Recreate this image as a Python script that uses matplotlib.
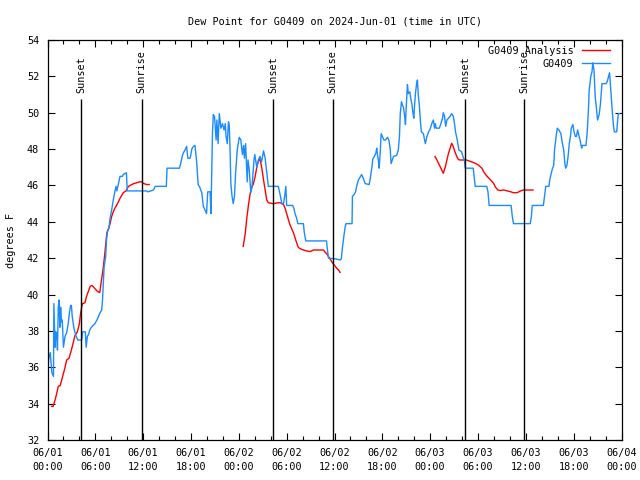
import numpy as np
import matplotlib
matplotlib.use("Agg")
import matplotlib.pyplot as plt

# ---------------- data (hours since 2024-06-01 00:00 UTC) ----------------
obs_hours = [0.0, 0.2, 0.35, 0.45, 0.55, 0.75, 0.8, 0.95, 1.05, 1.15, 1.25, 1.35, 1.45, 1.55, 1.65, 1.75, 1.85,
             2.0, 2.2, 2.4, 2.6, 2.75, 2.9, 3.0, 3.1, 3.3, 3.45, 3.6, 3.8, 4.3, 4.4, 4.75, 4.85, 5.0, 5.15, 5.3,
             5.5, 5.95, 6.2, 6.4, 6.6, 6.8, 6.9, 7.0, 7.1, 7.3, 7.4, 7.55, 7.7, 7.85, 8.05, 8.25, 8.45, 8.6, 8.7,
             8.9, 9.1, 9.4, 9.5, 9.9, 10.0, 12.45, 12.6, 13.3, 13.5, 14.9, 15.0, 16.55, 16.7, 16.9, 17.05, 17.25,
             17.45, 17.6, 17.9, 18.1, 18.3, 18.5, 18.7, 18.9, 19.1, 19.35, 19.55, 19.75, 19.95, 20.1, 20.4, 20.5,
             20.7, 20.8, 20.95, 21.15, 21.25, 21.4, 21.55, 21.75, 21.95, 22.15, 22.3, 22.4, 22.55, 22.7, 22.8,
             22.9, 23.0, 23.15, 23.3, 23.45, 23.6, 23.8, 24.05, 24.25, 24.45, 24.6, 24.7, 24.85, 25.05, 25.15,
             25.3, 25.5, 25.65, 25.9, 26.0, 26.25, 26.45, 26.65, 26.85, 27.1, 27.3, 27.5, 27.7, 28.95, 29.15,
             29.4, 29.6, 29.75, 29.9, 30.0, 30.75, 30.9, 31.05, 31.25, 31.4, 32.1, 32.2, 32.4, 35.0, 35.1, 35.25,
             36.3, 36.7, 36.85, 37.0, 37.2, 37.35, 37.45, 38.2, 38.25, 38.45, 38.65, 38.8, 39.0, 39.2, 39.4,
             39.6, 39.85, 40.35, 40.5, 40.6, 40.7, 40.8, 41.0, 41.2, 41.3, 41.4, 41.5, 41.6, 41.75, 41.85, 42.0,
             42.2, 42.4, 42.65, 42.85, 43.0, 43.1, 43.25, 43.4, 43.8, 44.0, 44.15, 44.25, 44.4, 44.5, 44.65,
             44.8, 44.9, 45.0, 45.15, 45.25, 45.45, 45.6, 45.7, 45.85, 45.95, 46.05, 46.15, 46.3, 46.4, 46.5,
             46.65, 46.8, 46.9, 47.15, 47.3, 47.4, 47.6, 47.8, 48.0, 48.2, 48.4, 48.55, 48.65, 48.75, 49.15,
             49.35, 49.55, 49.65, 49.8, 49.95, 50.1, 50.3, 50.5, 50.7, 50.9, 51.05, 51.2, 51.4, 51.6, 51.95,
             52.1, 52.3, 52.4, 53.4, 53.65, 55.1, 55.25, 55.4, 58.15, 58.3, 58.45, 60.55, 60.7, 60.8, 62.2,
             62.35, 62.5, 62.9, 63.0, 63.15, 63.35, 63.5, 63.6, 63.8, 63.95, 64.15, 64.4, 64.55, 64.75, 64.9,
             65.0, 65.15, 65.3, 65.45, 65.6, 65.7, 65.9, 66.05, 66.2, 66.35, 66.5, 66.65, 66.8, 67.0, 67.1,
             67.55, 67.7, 67.85, 67.95, 68.15, 68.3, 68.4, 68.55, 68.7, 68.9, 69.0, 69.2, 69.35, 69.55, 70.05,
             70.2, 70.4, 70.5, 70.65, 70.85, 71.0, 71.1, 71.4, 71.5, 71.6, 71.75]
obs_values = [35.85, 36.6, 36.8, 36.2, 35.7, 35.5, 39.5, 37.1, 37.95, 37.9, 36.95, 39.3, 39.7, 38.2, 39.3, 38.5, 38.6,
              37.1, 37.7, 37.9, 38.4, 39.0, 39.4, 39.4, 38.8, 38.2, 37.9, 37.7, 37.5, 37.5, 37.95, 37.95, 37.1, 37.7,
              37.8, 38.05, 38.2, 38.4, 38.6, 38.8, 39.0, 39.15, 39.7, 40.6, 41.5, 42.1, 43.0, 43.55, 43.65, 44.2,
              44.65, 45.2, 45.65, 45.95, 45.7, 46.1, 46.5, 46.5, 46.6, 46.7, 45.7, 45.7, 45.65, 45.75, 45.95, 45.95,
              46.95, 46.95, 47.2, 47.6, 47.8, 47.95, 48.15, 47.5, 47.5, 48.0, 48.15, 48.2, 47.35, 46.05, 45.9, 45.6,
              44.85, 44.65, 44.45, 45.65, 45.65, 44.45, 48.95, 49.9, 49.8, 48.5, 49.6, 48.3, 49.95, 49.15, 49.4,
              49.05, 49.4, 48.7, 48.3, 49.5, 49.3, 47.95, 46.1, 45.4, 45.0, 45.4, 46.7, 47.95, 48.65, 48.5, 47.7,
              48.2, 47.5, 48.3, 46.2, 47.4, 46.9, 45.6, 45.9, 47.4, 47.7, 47.0, 47.4, 47.6, 47.3, 47.9, 47.5, 46.75,
              45.95, 45.95, 45.55, 45.0, 45.0, 45.4, 45.95, 44.9, 44.9, 44.75, 44.45, 44.2, 43.9, 43.9, 43.45, 42.95,
              42.95, 42.5, 42.0, 41.95, 41.9, 41.95, 42.6, 43.3, 43.75, 43.9, 43.9, 45.4, 45.5, 45.65, 46.0, 46.3,
              46.45, 46.6, 46.4, 46.1, 46.05, 46.4, 46.75, 47.0, 47.45, 47.6, 47.8, 48.05, 47.65, 47.4, 46.95,
              47.95, 48.85, 48.7, 48.5, 48.5, 48.65, 48.45, 47.95, 47.2, 47.4, 47.6, 47.65, 47.95, 48.7, 49.95,
              50.6, 50.45, 50.3, 49.8, 49.35, 50.35, 51.55, 51.05, 51.15, 50.7, 50.5, 49.95, 49.7, 50.45, 51.05,
              51.6, 51.8, 51.05, 50.35, 49.4, 48.95, 48.85, 48.5, 48.3, 48.7, 48.95, 49.1, 49.4, 49.6, 49.15, 49.4,
              49.15, 49.15, 49.4, 49.7, 50.0, 49.8, 49.25, 49.6, 49.7, 49.8, 49.95, 49.8, 49.4, 48.9, 48.5, 47.95,
              47.85, 47.6, 47.4, 46.95, 46.95, 45.95, 45.95, 45.65, 44.9, 44.9, 44.3, 43.9, 43.9, 44.3, 44.9, 44.9,
              45.45, 45.95, 45.95, 46.3, 46.6, 46.95, 47.1, 47.95, 48.7, 49.15, 49.05, 48.85, 48.4, 47.95, 47.2,
              46.95, 47.1, 47.6, 48.3, 48.7, 49.15, 49.35, 48.95, 48.7, 48.7, 49.05, 48.75, 48.5, 48.05, 48.2,
              48.2, 48.95, 50.15, 51.25, 52.0, 52.25, 52.75, 52.35, 50.9, 50.05, 49.6, 49.9, 50.45, 51.6, 51.6,
              51.7, 52.05, 52.2, 51.25, 50.05, 49.25, 48.95, 48.95, 49.5, 49.95, 49.95]

ana_hours = [0.5, 0.7, 0.95, 1.15, 1.35, 1.6, 1.9, 2.2, 2.4, 2.7, 3.0, 3.25, 3.45, 3.75, 4.0, 4.15, 4.3, 4.4, 4.7,
             4.9, 5.1, 5.35, 5.55, 5.7, 5.8, 6.2, 6.55, 6.8, 7.0, 7.15, 7.35, 7.45, 7.65, 7.85, 8.05, 8.25, 8.45,
             8.6, 8.9, 9.1, 9.3, 9.5, 9.85, 10.15, 10.35, 10.8, 11.2, 11.6, 11.8, 12.1, 12.45, 12.75,
             18.0,
             24.55, 24.8, 25.0, 25.2, 25.4, 25.6, 25.8, 26.05, 26.25, 26.45, 26.65, 26.75, 26.9, 27.1, 27.3, 27.5,
             27.7, 28.3, 28.95, 29.2, 29.6, 29.8, 30.0, 30.2, 30.4, 30.6, 30.85, 31.05, 31.25, 31.45, 31.7, 32.1,
             32.5, 32.95, 33.35, 34.6, 35.0, 35.25, 35.45, 35.65, 35.85, 36.05, 36.3, 36.5, 36.7,
             42.0,
             48.6, 48.85, 49.05, 49.25, 49.45, 49.65, 49.9, 50.1, 50.3, 50.5, 50.7, 50.9, 51.1, 51.35, 51.55,
             51.75, 52.2, 52.4, 52.8, 53.2, 53.65, 54.05, 54.5, 54.7, 55.1, 55.5, 55.95, 56.2, 56.5, 56.8, 57.2,
             57.6, 58.05, 58.45, 58.9, 59.3, 59.7, 60.9]
ana_values = [33.85, 33.85, 34.2, 34.55, 34.95, 35.0, 35.5, 36.0, 36.4, 36.5, 36.95, 37.4, 37.75, 37.95, 38.4,
              38.95, 39.35, 39.5, 39.55, 39.9, 40.15, 40.45, 40.5, 40.45, 40.4, 40.2, 40.1, 40.9, 41.5, 42.1, 43.0,
              43.4, 43.6, 43.9, 44.3, 44.55, 44.75, 44.85, 45.1, 45.3, 45.45, 45.6, 45.7, 45.95, 46.0, 46.1, 46.15,
              46.2, 46.2, 46.1, 46.05, 46.05,
              np.nan,
              42.65, 43.35, 44.2, 44.9, 45.5, 45.9, 46.05, 46.5, 47.0, 47.35, 47.45, 47.25, 46.9, 46.3, 45.75, 45.2,
              45.05, 45.0, 45.05, 45.05, 44.95, 44.75, 44.45, 44.15, 43.85, 43.65, 43.4, 43.12, 42.85, 42.6, 42.52,
              42.45, 42.4, 42.36, 42.45, 42.45, 42.25, 42.08, 41.95, 41.8, 41.68, 41.57, 41.44, 41.35, 41.22,
              np.nan,
              47.6, 47.4, 47.22, 47.03, 46.85, 46.67, 47.03, 47.4, 47.77, 48.04, 48.32, 48.13, 47.86, 47.58, 47.42,
              47.4, 47.4, 47.42, 47.36, 47.3, 47.22, 47.12, 46.94, 46.76, 46.52, 46.34, 46.12, 45.9, 45.75, 45.72,
              45.75, 45.71, 45.66, 45.6, 45.6, 45.69, 45.75, 45.75]

sun_hours = [4.25, 11.8, 28.33, 35.75, 52.42, 59.82]
sun_labels = ["Sunset", "Sunrise", "Sunset", "Sunrise", "Sunset", "Sunrise"]

x_tick_hours = list(range(0, 73, 6))
x_tick_labels = ["06/01\n00:00", "06/01\n06:00", "06/01\n12:00", "06/01\n18:00",
                 "06/02\n00:00", "06/02\n06:00", "06/02\n12:00", "06/02\n18:00",
                 "06/03\n00:00", "06/03\n06:00", "06/03\n12:00", "06/03\n18:00",
                 "06/04\n00:00"]
y_ticks = list(range(32, 55, 2))

title = "Dew Point for G0409 on 2024-Jun-01 (time in UTC)"
ylabel = "degrees F"
series_names = ["G0409 Analysis", "G0409"]

# ---------------- plot ----------------
FS = 7.3
plt.rcParams['font.family'] = ['DejaVu Sans Mono']
plt.rcParams['font.size'] = FS

fig = plt.figure(figsize=(6.4, 4.8), dpi=100)
ax = fig.add_axes([47.5 / 640, 40 / 480, 574 / 640, 400 / 480])

ax.plot(ana_hours, ana_values, color='#ff0000', lw=1.0, label=series_names[0])
ax.plot(obs_hours, obs_values, color='#1a8cff', lw=1.0, label=series_names[1])

for h, lab in zip(sun_hours, sun_labels):
    ax.vlines(h, 32, 50.75, color='black', lw=1.0)
    ax.text(h, 51.1, lab, rotation=90, ha='center', va='bottom', fontsize=FS)

ax.set_xlim(0, 72)
ax.set_ylim(32, 54)
ax.set_xticks(x_tick_hours)
ax.set_xticklabels(x_tick_labels, linespacing=1.5)
ax.set_xticks(list(range(0, 73, 2)), minor=True)
ax.set_yticks(y_ticks)
ax.tick_params(which='both', direction='in', top=True, right=True, width=0.8)
ax.tick_params(which='major', length=5, pad=6)
ax.tick_params(axis='y', which='major', pad=6)
ax.tick_params(which='minor', length=2.8)
for s in ax.spines.values():
    s.set_linewidth(0.9)

ax.set_title(title, pad=11, fontsize=FS)
ax.set_ylabel(ylabel, labelpad=8, fontsize=FS)

leg = ax.legend(loc='upper right', bbox_to_anchor=(0.98, 0.985), frameon=False,
                markerfirst=False, handlelength=2.8, handletextpad=0.8,
                labelspacing=0.25, borderaxespad=0, borderpad=0, fontsize=FS)

fig.savefig("out.png", dpi=100)
